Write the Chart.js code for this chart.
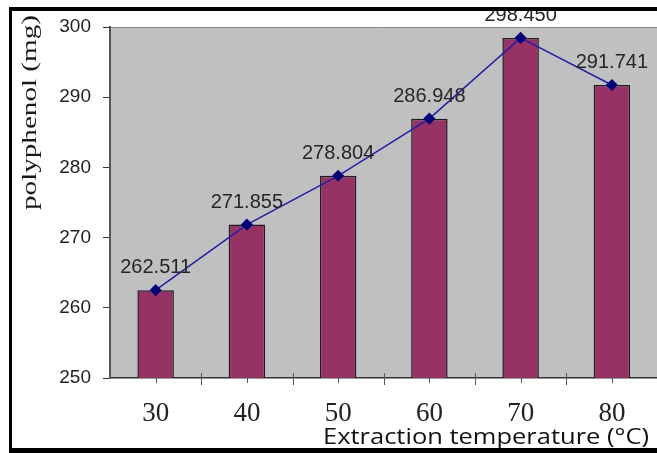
<!DOCTYPE html>
<html>
<head>
<meta charset="utf-8">
<script src="https://cdn.jsdelivr.net/npm/chart.js@4"></script>
<style>
html, body { margin: 0; padding: 0; background: #fff; overflow: hidden; }
#wrap { position: relative; width: 664px; height: 453px; }
</style>
</head>
<body>
<div id="wrap"><canvas id="chart"></canvas></div>
<script>
// Data
const temperatures = ['30', '40', '50', '60', '70', '80'];
const polyphenol = [262.511, 271.855, 278.804, 286.948, 298.450, 291.741];
const valueLabels = ['262.511', '271.855', '278.804', '286.948', '298.450', '291.741'];
const yTicks = [250, 260, 270, 280, 290, 300];
const yTitle = 'polyphenol (mg)';
const xTitle = 'Extraction temperature (°C)';

// draw text squeezed/stretched to a given width
function fitText(ctx, text, x, y, width, font, angle) {
    ctx.save();
    ctx.font = font;
    const w = ctx.measureText(text).width;
    ctx.translate(x, y);
    if (angle) ctx.rotate(angle);
    ctx.scale(width / w, 1);
    ctx.textAlign = 'left';
    ctx.textBaseline = 'alphabetic';
    ctx.fillText(text, 0, 0);
    ctx.restore();
}

// gray plot area with a thin top border
const plotBg = {
    id: 'plotBg',
    beforeDraw(chart) {
        const { ctx, chartArea: a } = chart;
        ctx.save();
        ctx.fillStyle = '#c0c0c0';
        ctx.fillRect(a.left, a.top, a.right - a.left, a.bottom - a.top);
        ctx.strokeStyle = '#8a8a8a';
        ctx.lineWidth = 1;
        ctx.beginPath();
        ctx.moveTo(a.left, a.top + 0.5);
        ctx.lineTo(a.right, a.top + 0.5);
        ctx.stroke();
        ctx.restore();
    }
};

// x tick marks at category centres and between categories
const xTickMarks = {
    id: 'xTickMarks',
    afterDatasetsDraw(chart) {
        const { ctx, scales: { x } } = chart;
        const y0 = x.top;
        const half = x.width / temperatures.length / 2;
        ctx.save();
        ctx.strokeStyle = '#555';
        ctx.lineWidth = 1;
        ctx.beginPath();
        temperatures.forEach((t, i) => {
            const c = Math.round(x.getPixelForValue(i)) + 0.5;
            const b = Math.round(x.getPixelForValue(i) + half) + 0.5;
            ctx.moveTo(c, y0 - 4);
            ctx.lineTo(c, y0 + 5);
            ctx.moveTo(b, y0 - 5);
            ctx.lineTo(b, y0 + 7);
        });
        ctx.stroke();
        ctx.restore();
    }
};

// value labels above the line points
const valueLabelsPlugin = {
    id: 'valueLabels',
    afterDatasetsDraw(chart) {
        const { ctx } = chart;
        const meta = chart.getDatasetMeta(1);
        ctx.save();
        ctx.font = '20px "Liberation Sans", Arial, sans-serif';
        ctx.fillStyle = '#262626';
        ctx.textAlign = 'center';
        ctx.textBaseline = 'alphabetic';
        meta.data.forEach((pt, i) => {
            ctx.fillText(valueLabels[i], pt.x, pt.y - 17);
        });
        ctx.restore();
    }
};

// axis titles and the black frame round the picture
const decorations = {
    id: 'decorations',
    afterDraw(chart) {
        const { ctx } = chart;
        ctx.save();
        ctx.fillStyle = '#1a1a1a';
        fitText(ctx, yTitle, 36, 210, 195, '21px "Liberation Serif", "Times New Roman", serif', -Math.PI / 2);
        ctx.fillStyle = '#111';
        fitText(ctx, xTitle, 323, 444, 326, '22px "Open Sans", sans-serif');
        ctx.fillStyle = '#000';
        ctx.fillRect(9, 7, chart.width, 4);
        ctx.fillRect(9, 7, 3, chart.height);
        ctx.fillRect(9, 448, chart.width, 6);
        ctx.restore();
    }
};

new Chart(document.getElementById('chart').getContext('2d'), {
    type: 'bar',
    data: {
        labels: temperatures,
        datasets: [
            {
                type: 'bar',
                data: polyphenol,
                backgroundColor: '#963264',
                borderColor: '#1e1e1e',
                borderWidth: 1.5,
                barPercentage: 0.4,
                categoryPercentage: 1.0,
                order: 2
            },
            {
                type: 'line',
                data: polyphenol,
                borderColor: '#1f1fa8',
                borderWidth: 1.5,
                pointStyle: 'rectRot',
                pointRadius: 5,
                pointBackgroundColor: '#00007a',
                pointBorderColor: '#00007a',
                tension: 0,
                order: 1
            }
        ]
    },
    options: {
        responsive: true,
        maintainAspectRatio: false,
        animation: false,
        layout: { padding: { top: 27, right: 4, left: 0, bottom: 0 } },
        plugins: {
            legend: { display: false },
            tooltip: { enabled: false }
        },
        scales: {
            x: {
                offset: true,
                grid: { display: false, drawTicks: false },
                border: { display: true, color: '#333', width: 1.5 },
                ticks: {
                    font: { family: '"Liberation Serif", "Times New Roman", serif', size: 27 },
                    color: '#222',
                    padding: 20,
                    maxRotation: 0
                },
                afterFit(s) { s.height = 75; }
            },
            y: {
                min: 250,
                max: 300,
                afterBuildTicks(s) { s.ticks = yTicks.map(v => ({ value: v })); },
                grid: { drawOnChartArea: false, tickLength: 7, color: '#333' },
                border: { display: true, color: '#555', width: 2 },
                ticks: {
                    font: { family: '"Liberation Sans", Arial, sans-serif', size: 19 },
                    color: '#222',
                    padding: 12
                },
                afterFit(s) { s.width = 110; }
            }
        }
    },
    plugins: [plotBg, xTickMarks, valueLabelsPlugin, decorations]
});
</script>
</body>
</html>
